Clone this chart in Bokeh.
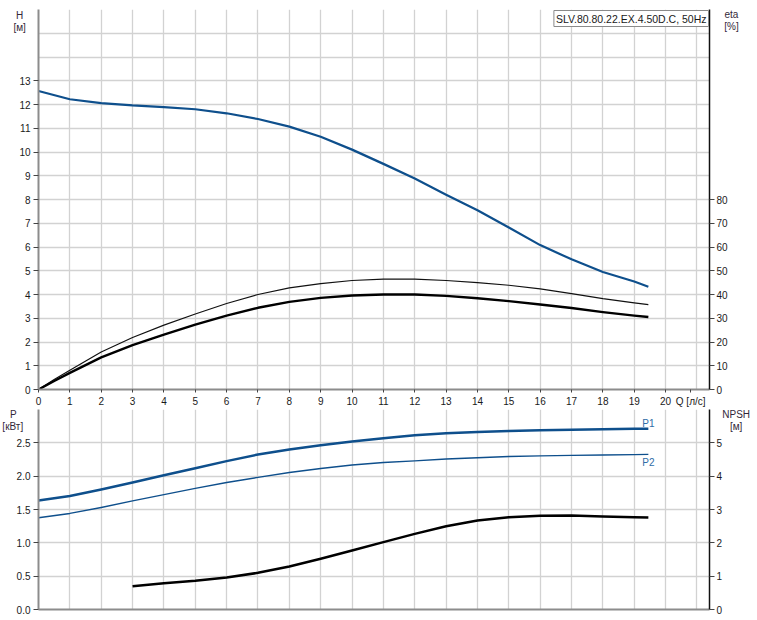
from bokeh.plotting import figure
from bokeh.models import Range1d, LinearAxis, FixedTicker, Label, NumeralTickFormatter
from bokeh.layouts import column
from bokeh.embed import file_html
from bokeh.resources import INLINE

# ---------------- data ----------------
q_head = [0, 1, 2, 3, 4, 5, 6, 7, 8, 9, 10, 11, 12, 13, 14, 15, 16, 17, 18, 19, 19.45]
head = [12.57, 12.22, 12.06, 11.96, 11.89, 11.80, 11.63, 11.39, 11.07, 10.64, 10.10,
        9.50, 8.88, 8.20, 7.55, 6.82, 6.08, 5.48, 4.95, 4.55, 4.33]

q_eta = [0, 0.5, 1, 2, 3, 4, 5, 6, 7, 8, 9, 10, 11, 12, 13, 14, 15, 16, 17, 18, 19, 19.45]
eta_total = [0, 3.6, 7.0, 13.5, 18.7, 23.1, 27.3, 31.1, 34.4, 36.9, 38.6, 39.6, 40.0,
             40.0, 39.4, 38.4, 37.2, 35.8, 34.3, 32.6, 31.1, 30.5]
eta_hyd = [0, 4.2, 8.1, 15.8, 21.9, 27.1, 31.8, 36.2, 40.0, 42.8, 44.6, 45.9, 46.5,
           46.5, 45.9, 45.0, 43.9, 42.4, 40.4, 38.3, 36.5, 35.7]

q_power = [0, 1, 2, 3, 4, 5, 6, 7, 8, 9, 10, 11, 12, 13, 14, 15, 16, 17, 18, 19, 19.45]
p1 = [1.634, 1.703, 1.800, 1.905, 2.014, 2.120, 2.226, 2.325, 2.400, 2.465, 2.520,
      2.568, 2.613, 2.643, 2.662, 2.678, 2.690, 2.698, 2.704, 2.710, 2.712]
p2 = [1.377, 1.441, 1.530, 1.629, 1.723, 1.816, 1.905, 1.982, 2.054, 2.116, 2.168,
      2.205, 2.230, 2.257, 2.277, 2.295, 2.305, 2.312, 2.318, 2.323, 2.327]

q_npsh = [3, 4, 5, 6, 7, 8, 9, 10, 11, 12, 13, 14, 15, 16, 17, 18, 19, 19.45]
npsh = [0.70, 0.79, 0.86, 0.96, 1.10, 1.29, 1.52, 1.77, 2.02, 2.27, 2.50, 2.67,
        2.77, 2.81, 2.82, 2.79, 2.77, 2.76]

q_ticks = list(range(0, 21))
q_unit_tick = 20.8
h_ticks = list(range(0, 14))
eta_ticks = list(range(0, 90, 10))
p_ticks = [0.0, 0.5, 1.0, 1.5, 2.0, 2.5]
npsh_ticks = [0, 1, 2, 3, 4, 5]

title_text = "SLV.80.80.22.EX.4.50D.C, 50Hz"
q_label = "Q [л/с]"
h_label = "H\n[м]"
eta_label = "eta\n[%]"
p_label = "P"
p_unit = "[кВт]"
npsh_label = "NPSH\n[м]"

# ---------------- styles ----------------
FONT = "Liberation Sans"
BLUE = "#0e4f8c"
LBLUE = "#2f6ca6"
GRID = "#d2d2d2"
AXGRAY = "#8c8c8c"
TXT = "#1a1a1a"
NAME = "#33283a"
FS = "10px"

XMAX = 21.4
W = 755
LEFT = 38
FRAME_W = 671


def style_axis(ax, line_color, tick_out, standoff):
    ax.axis_line_color = line_color
    ax.axis_line_width = 2 if line_color == AXGRAY else 1.5
    ax.major_tick_line_color = "#444444"
    ax.major_tick_in = 0
    ax.major_tick_out = tick_out
    ax.minor_tick_line_color = None
    ax.major_label_text_font = FONT
    ax.major_label_text_font_size = FS
    ax.major_label_text_color = TXT
    ax.major_label_standoff = standoff


def side_text(p, txt, x, y, side, color=NAME, line_height=1.1):
    # label placed in a side panel (not clipped to the frame), positioned in data units
    p.add_layout(Label(x=x, y=y, text=txt, text_font=FONT, text_font_size=FS,
                       text_color=color, text_align="center", text_baseline="middle",
                       text_line_height=line_height), side)


# ---------------- top figure: H and eta ----------------
top = figure(width=W, height=409, x_range=Range1d(0, XMAX), y_range=Range1d(0, 16),
             output_backend="svg", toolbar_location=None,
             min_border_left=LEFT, min_border_right=W - LEFT - FRAME_W,
             min_border_top=9, min_border_bottom=19)
top.outline_line_color = None
top.background_fill_color = "white"
top.border_fill_color = "white"

top.extra_y_ranges = {"eta": Range1d(0, 160)}
left_ax = top.yaxis[0]
left_ax.ticker = FixedTicker(ticks=h_ticks)
style_axis(left_ax, AXGRAY, 5, 3)

bottom_ax = top.xaxis[0]
bottom_ax.ticker = FixedTicker(ticks=q_ticks + [q_unit_tick])
bottom_ax.major_label_overrides = {q_unit_tick: q_label}
style_axis(bottom_ax, AXGRAY, 3, 3)

right_ax = LinearAxis(y_range_name="eta", ticker=FixedTicker(ticks=eta_ticks))
style_axis(right_ax, "#111111", 5, 2)
top.add_layout(right_ax, "right")

top.xgrid.ticker = FixedTicker(ticks=list(range(0, 22)))
top.ygrid.ticker = FixedTicker(ticks=list(range(0, 16)))
for g in (top.xgrid[0], top.ygrid[0]):
    g.grid_line_color = GRID
    g.grid_line_width = 1.3

top.line(q_eta, eta_hyd, y_range_name="eta", line_color="#111111", line_width=1.2,
         line_join="round")
top.line(q_eta, eta_total, y_range_name="eta", line_color="#000000", line_width=2.4,
         line_join="round")
top.line(q_head, head, line_color=BLUE, line_width=2.2, line_join="round")

side_text(top, h_label, -0.6, 15.5, "left")
side_text(top, eta_label, 22.1, 15.53, "right")

top.add_layout(Label(x=FRAME_W - 1, y=379, x_units="screen", y_units="screen", text=title_text,
                     text_font=FONT, text_font_size="10.5px", text_color=TXT,
                     text_align="right", text_baseline="top",
                     background_fill_color="white", border_line_color="#8a8a8a",
                     border_line_width=1, padding=2))

# ---------------- bottom figure: P and NPSH ----------------
bot = figure(width=W, height=211, x_range=Range1d(0, XMAX), y_range=Range1d(0, 3.0),
             output_backend="svg", toolbar_location=None,
             min_border_left=LEFT, min_border_right=W - LEFT - FRAME_W,
             min_border_top=0, min_border_bottom=9)
bot.outline_line_color = None
bot.background_fill_color = "white"
bot.border_fill_color = "white"

bot.extra_y_ranges = {"npsh": Range1d(0, 6)}
bl = bot.yaxis[0]
bl.ticker = FixedTicker(ticks=p_ticks)
bl.formatter = NumeralTickFormatter(format="0.0")
style_axis(bl, AXGRAY, 5, 3)

bb = bot.xaxis[0]
bb.ticker = FixedTicker(ticks=[])
style_axis(bb, AXGRAY, 0, 0)

br = LinearAxis(y_range_name="npsh", ticker=FixedTicker(ticks=npsh_ticks))
style_axis(br, "#111111", 5, 2)
bot.add_layout(br, "right")

bot.xgrid.ticker = FixedTicker(ticks=list(range(0, 22)))
bot.ygrid.ticker = FixedTicker(ticks=p_ticks)
for g in (bot.xgrid[0], bot.ygrid[0]):
    g.grid_line_color = GRID
    g.grid_line_width = 1.3

bot.line(q_power, p2, line_color=BLUE, line_width=1.4, line_join="round")
bot.line(q_power, p1, line_color=BLUE, line_width=2.5, line_join="round")
bot.line(q_npsh, npsh, y_range_name="npsh", line_color="#000000", line_width=2.5,
         line_join="round")

bot.add_layout(Label(x=q_power[-1], y=p1[-1], text="P1", text_font=FONT, text_font_size=FS,
                     text_color=LBLUE, text_align="center", text_baseline="middle",
                     y_offset=5))
bot.add_layout(Label(x=q_power[-1], y=p2[-1], text="P2", text_font=FONT, text_font_size=FS,
                     text_color=LBLUE, text_align="center", text_baseline="middle",
                     y_offset=-8))

side_text(bot, p_label, -0.8, 2.93, "left")
side_text(bot, p_unit, -0.82, 2.743, "below", line_height=0.7)
side_text(bot, npsh_label, 22.25, 2.834, "right")

layout = column(top, bot)
open("out.html", "w").write(file_html(layout, INLINE))
